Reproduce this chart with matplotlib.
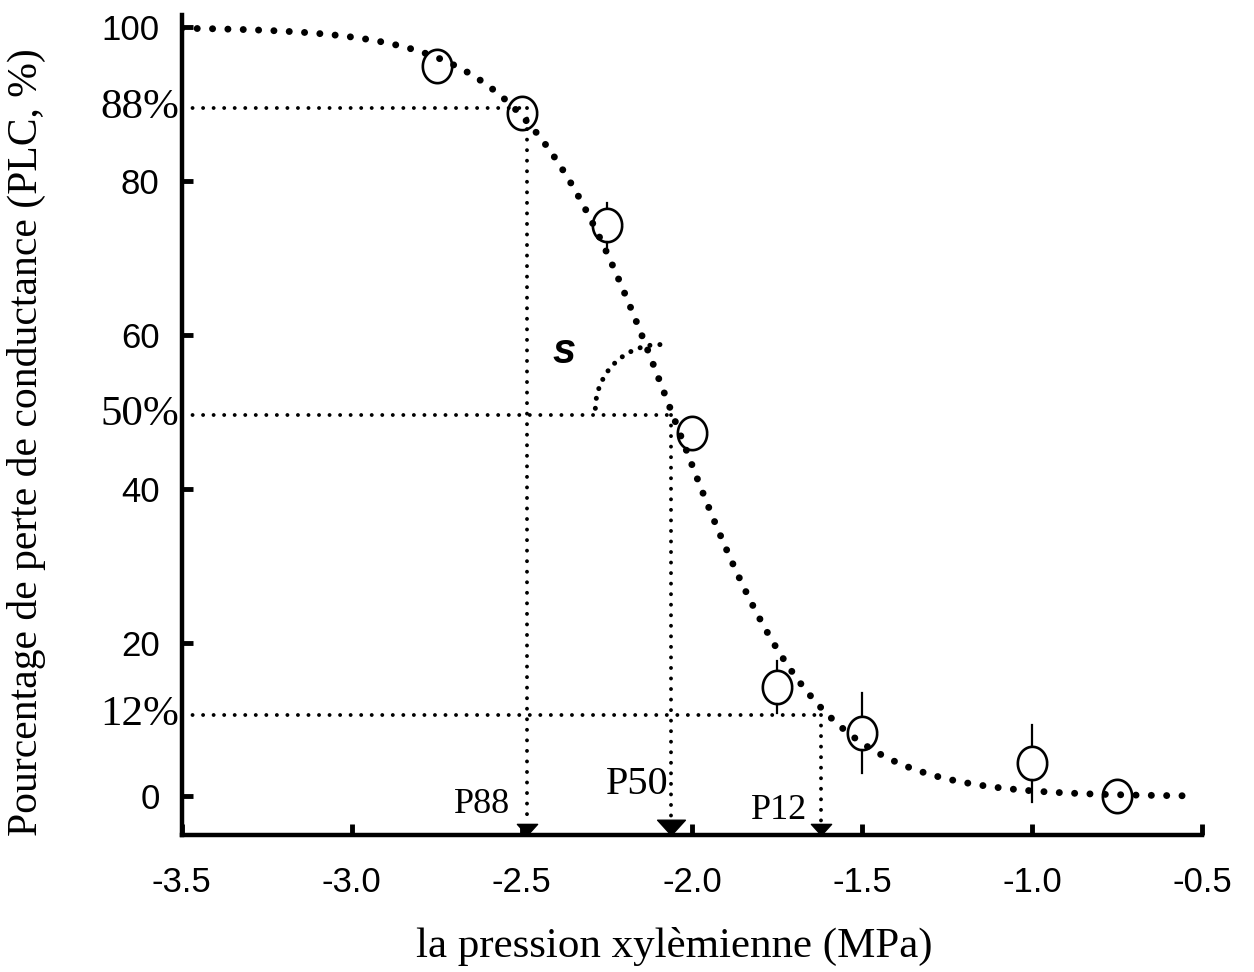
import matplotlib.pyplot as plt
import numpy as np
from matplotlib.patches import Arc

# donnees
pression = [-2.75, -2.5, -2.25, -2.0, -1.75, -1.5, -1.0, -0.75]
plc = [95.0, 88.8, 74.3, 47.3, 14.2, 8.3, 4.3, 0.0]
erreur = [0.8, 0.8, 2.8, 0.8, 3.4, 5.2, 5.0, 0.5]

p50 = -2.06
pente = 115.8  # s, en %/MPa
p88 = -2.485
p12 = -1.62
niveaux = [89.5, 49.6, 10.6]
etiquettes = ["88%", "50%", "12%"]
noms_p = ["P88", "P50", "P12"]

x_ticks = [-3.5, -3.0, -2.5, -2.0, -1.5, -1.0, -0.5]
y_ticks = [0, 20, 40, 60, 80, 100]

serif = "Liberation Serif"
sans = "Liberation Sans"

fig = plt.figure(figsize=(12.54, 9.72), dpi=100)
ax = fig.add_axes([0.145, 0.141, 0.8135, 0.8436])

# courbe de vulnerabilite
xc = np.linspace(-3.5, -0.55, 600)
yc = 100 / (1 + np.exp(pente / 25 * (xc - p50)))
ax.plot(xc, yc, color="black", lw=5, linestyle=(0, (0.01, 2.2)),
        dash_capstyle="round", zorder=3)

# points mesures (barres d'erreur seulement hors du cercle)
t = np.linspace(0, 2 * np.pi, 60)
ellipse = np.column_stack([0.88 * np.cos(t), np.sin(t)])
r = 2.2
for x, y, e in zip(pression, plc, erreur):
    if e > r:
        ax.plot([x, x], [y + r, y + e], color="black", lw=1.6, zorder=4)
        ax.plot([x, x], [y - r, y - e], color="black", lw=1.6, zorder=4)
ax.plot(pression, plc, linestyle="none", marker=ellipse, ms=24,
        mfc="none", mec="black", mew=1.9, zorder=5)

# lignes de reference
tip = [(0, 0), (-1, 1.1), (1, 1.1), (0, 0)]
for niv, p, nom in zip(niveaux, [p88, p50, p12], noms_p):
    ax.plot([-3.5, p], [niv, niv], color="black", lw=2.8,
            linestyle=(0, (0.01, 2.7)), dash_capstyle="round", zorder=2)
    ax.plot([p, p], [niv, -3.5], color="black", lw=2.8,
            linestyle=(0, (0.01, 2.7)), dash_capstyle="round", zorder=2)
    taille = 22 if nom == "P50" else 16
    ax.plot([p], [-5], marker=tip, ms=taille, color="black",
            clip_on=False, zorder=6)

ax.text(p88 - 0.05, -1.0, "P88", family=serif, fontsize=26,
        ha="right", va="center")
ax.text(p50 - 0.01, 1.5, "P50", family=serif, fontsize=29,
        ha="right", va="center")
ax.text(p12 - 0.04, -1.8, "P12", family=serif, fontsize=26,
        ha="right", va="center")

for niv, lab in zip(niveaux, etiquettes):
    ax.text(-3.508, niv, lab, family=serif, fontsize=31,
            ha="right", va="center")

# angle s
ax.add_patch(Arc((-2.094, 50.3), 0.38, 16.9, theta1=90, theta2=180,
                 color="black", lw=3.6, linestyle=(0, (0.01, 2.0)),
                 capstyle="round"))
ax.text(-2.375, 57.8, "s", family=sans, fontsize=30, fontweight="bold",
        style="italic", ha="center", va="center")

ax.set_xlim(-3.5, -0.5)
ax.set_ylim(-5, 101.6)
ax.set_xticks(x_ticks)
ax.set_xticklabels([f"{v:.1f}" for v in x_ticks], family=sans, fontsize=25)
ax.set_yticks(y_ticks)
ax.set_yticklabels([str(v) for v in y_ticks], family=sans, fontsize=25)
ax.tick_params(direction="in", length=8, width=3.5, pad=16)
ax.tick_params(axis="x", pad=22)
for side in ["top", "right"]:
    ax.spines[side].set_visible(False)
for side in ["left", "bottom"]:
    ax.spines[side].set_linewidth(3.2)

ax.set_xlabel("la pression xylèmienne (MPa)", family=serif, fontsize=31)
ax.set_ylabel("Pourcentage de perte de conductance (PLC, %)", family=serif,
              fontsize=30)
ax.xaxis.set_label_coords(0.483, -0.112)
ax.yaxis.set_label_coords(-0.133, 0.479)

fig.savefig("out.png", dpi=100)
